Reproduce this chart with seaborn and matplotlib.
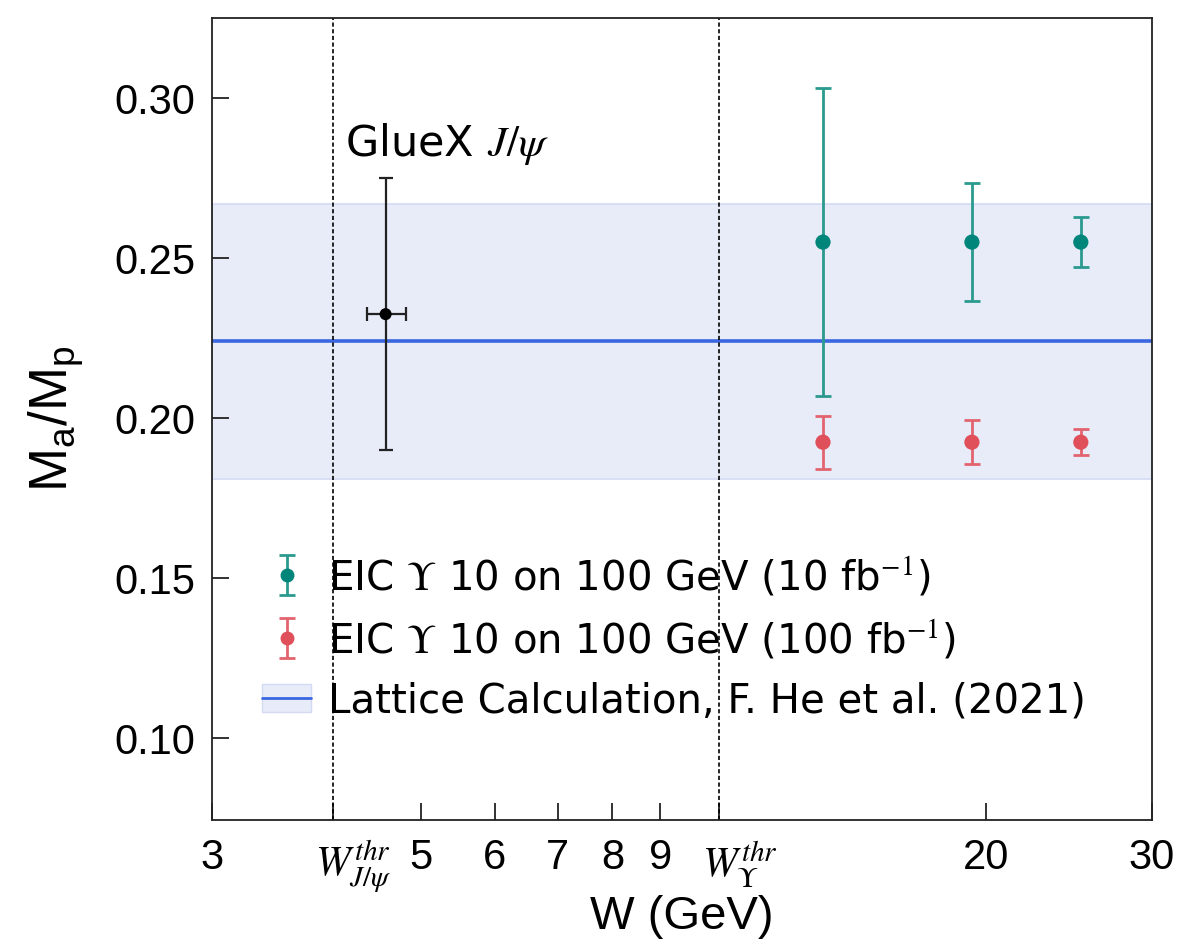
import numpy as np
import matplotlib
matplotlib.use("Agg")
import matplotlib.pyplot as plt
import matplotlib.transforms as mtransforms
import seaborn as sns
from matplotlib.lines import Line2D
from matplotlib.patches import Patch

# ---- data ----
gluex_w = [4.59]
gluex_y = [0.2325]
gluex_yerr_lo = [0.0425]
gluex_yerr_hi = [0.0425]
gluex_xerr_lo = [0.20]
gluex_xerr_hi = [0.23]

eic_w = [13.4, 19.3, 25.2]
eic10_y = [0.255, 0.255, 0.255]
eic10_err = [0.048, 0.0185, 0.0078]
eic100_y = [0.1925, 0.1925, 0.1925]
eic100_err = [0.0083, 0.0068, 0.004]

lattice_center = 0.224
lattice_lo = 0.181
lattice_hi = 0.267

w_thr_jpsi = 4.035
w_thr_ups = 10.398

xtick_vals = [3, w_thr_jpsi, 5, 6, 7, 8, 9, w_thr_ups, 20, 30]
xtick_labels = ["3", r"$W^{thr}_{J/\psi}$", "5", "6", "7", "8", "9",
                r"$W^{thr}_{\Upsilon}$", "20", "30"]
ytick_vals = [0.10, 0.15, 0.20, 0.25, 0.30]

legend_labels = [r"EIC $\Upsilon$ 10 on 100 GeV (10 fb$^{-1}$)",
                 r"EIC $\Upsilon$ 10 on 100 GeV (100 fb$^{-1}$)",
                 "Lattice Calculation, F. He et al. (2021)"]

# ---- style ----
sns.set_theme(style="ticks")
plt.rcParams["font.family"] = ["Liberation Sans", "DejaVu Sans"]
plt.rcParams["mathtext.fontset"] = "stix"
plt.rcParams["text.color"] = "black"
plt.rcParams["axes.labelcolor"] = "black"
plt.rcParams["xtick.color"] = "black"
plt.rcParams["ytick.color"] = "black"

teal_bar = "#2a9a8e"
teal_pt = "#00857a"
red_bar = "#e2646e"
red_pt = "#e0505a"
blue = "#3a66e0"
band = "#e8ecf9"
band_edge = "#d3dbf4"

fig = plt.figure(figsize=(11.82, 9.42), dpi=100)
ax = fig.add_axes([212/1182, (942-820)/942, 940/1182, 802/942])

# lattice band + line
ax.axhspan(lattice_lo, lattice_hi, facecolor=band, edgecolor=band_edge, lw=1.2, zorder=0)
ax.axhline(lattice_center, color=blue, lw=2.6, zorder=1)

# thresholds
for w in (w_thr_jpsi, w_thr_ups):
    ax.axvline(w, color="black", lw=1.2, ls=(0, (2.5, 1.5)), zorder=1)

# GlueX
ax.errorbar(gluex_w, gluex_y,
            yerr=[gluex_yerr_lo, gluex_yerr_hi],
            xerr=[gluex_xerr_lo, gluex_xerr_hi],
            fmt="none", ecolor="#222222", elinewidth=1.6, capsize=5, capthick=1.6, zorder=3)
sns.scatterplot(x=gluex_w, y=gluex_y, ax=ax, color="black", s=75, edgecolor="none",
                zorder=4, legend=False)

# EIC
ax.errorbar(eic_w, eic10_y, yerr=eic10_err, fmt="none", ecolor=teal_bar,
            elinewidth=2.0, capsize=6, capthick=2.0, zorder=3)
sns.scatterplot(x=eic_w, y=eic10_y, ax=ax, color=teal_pt, s=120, edgecolor="none",
                zorder=4, legend=False)
ax.errorbar(eic_w, eic100_y, yerr=eic100_err, fmt="none", ecolor=red_bar,
            elinewidth=2.0, capsize=6, capthick=2.0, zorder=3)
sns.scatterplot(x=eic_w, y=eic100_y, ax=ax, color=red_pt, s=120, edgecolor="none",
                zorder=4, legend=False)

ax.text(4.16, 0.2785, r"GlueX $J/\psi$", fontsize=31, family="DejaVu Sans",
        ha="left", va="bottom")

# axes
ax.set_xscale("log")
ax.set_xlim(3, 30)
ax.set_ylim(0.0745, 0.325)
ax.set_xticks(xtick_vals)
ax.set_xticklabels(xtick_labels)
ax.xaxis.set_minor_locator(matplotlib.ticker.NullLocator())
ax.set_yticks(ytick_vals)
ax.set_yticklabels([f"{v:.2f}" for v in ytick_vals])
ax.tick_params(axis="both", direction="in", length=12, width=1.3, labelsize=30,
               color="#222222")
ax.tick_params(axis="x", pad=13)
ax.tick_params(axis="y", pad=12)
for s in ax.spines.values():
    s.set_linewidth(1.3)
    s.set_color("#222222")

ax.set_xlabel("W (GeV)", fontsize=34)
ax.xaxis.set_label_coords(0.5, -0.094)
ax.set_ylabel(r"$\mathregular{M_a/M_p}$", fontsize=38, labelpad=20)

# legend
h10 = ax.errorbar([np.nan], [np.nan], yerr=[1], fmt="o", color=teal_pt, ecolor=teal_bar,
                  ms=9, elinewidth=2.0, capsize=6, capthick=2.0)
h100 = ax.errorbar([np.nan], [np.nan], yerr=[1], fmt="o", color=red_pt, ecolor=red_bar,
                   ms=9, elinewidth=2.0, capsize=6, capthick=2.0)
hlat = (Patch(facecolor=band, edgecolor=band_edge), Line2D([], [], color=blue, lw=2))
leg = ax.legend([h10, h100, hlat], legend_labels, loc="lower left",
                bbox_to_anchor=(0.045, 0.113), frameon=False,
                prop={"family": "DejaVu Sans", "size": 29},
                handlelength=1.2, handletextpad=0.42, labelspacing=0.5,
                borderaxespad=0.0, borderpad=0.2)

# shift the threshold tick labels slightly right, as in the original
fig.canvas.draw()
shift = mtransforms.ScaledTranslation(21 / 100, 0, fig.dpi_scale_trans)
for i, tick in enumerate(ax.xaxis.get_major_ticks()):
    if i in (1, 7):
        tick.label1.set_transform(tick.label1.get_transform() + shift)

fig.savefig("out.png", dpi=100)
